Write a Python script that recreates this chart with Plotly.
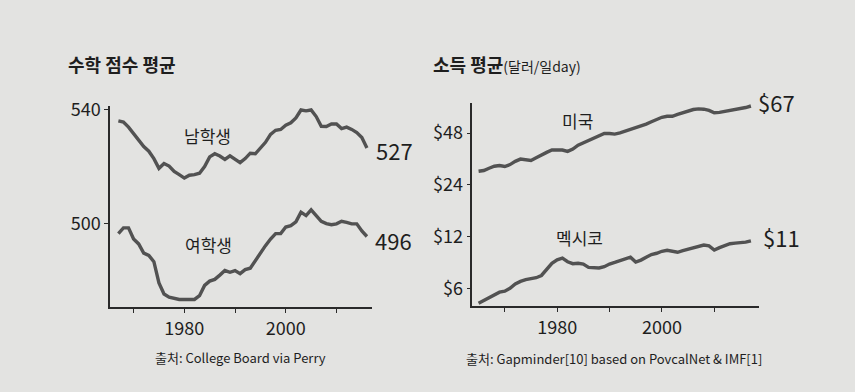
import plotly.graph_objects as go

# ---- data ----
score_years = list(range(1967, 2017))
male_scores = [536.0, 535.6, 533.8, 531.5, 529.0, 527.0, 525.4, 522.8, 519.4, 521.1,
               520.2, 518.3, 517.2, 516.0, 517.0, 517.2, 517.7, 520.0, 523.4, 524.5,
               523.7, 522.5, 523.8, 522.5, 521.4, 522.8, 524.7, 524.5, 526.4, 528.5,
               531.3, 532.7, 533.0, 534.5, 535.3, 537.0, 539.8, 539.5, 539.8, 537.5,
               534.1, 534.0, 534.9, 534.9, 533.3, 533.8, 533.0, 531.9, 530.2, 526.5]
female_scores = [496.6, 498.6, 498.6, 494.7, 493.0, 489.8, 489.0, 486.8, 479.4, 475.5,
                 474.4, 473.9, 473.6, 473.6, 473.6, 473.6, 474.9, 478.5, 480.0, 480.6,
                 482.1, 483.7, 483.1, 483.7, 482.6, 484.0, 484.5, 487.1, 490.2, 492.4,
                 494.7, 496.6, 496.6, 498.9, 499.4, 500.7, 504.1, 502.9, 504.9, 502.9,
                 500.9, 500.1, 499.7, 500.0, 500.9, 500.5, 500.0, 500.0, 497.5, 495.6]

income_years = list(range(1965, 2018))
usa_income = [28.8, 29.1, 30.0, 30.8, 31.1, 30.7, 31.5, 32.9, 33.9, 33.5,
              33.3, 34.5, 35.9, 37.1, 38.3, 38.5, 38.3, 37.6, 38.8, 40.9,
              42.3, 43.6, 45.2, 46.6, 47.8, 47.8, 47.4, 48.2, 49.3, 50.3,
              51.5, 52.6, 54.2, 55.9, 57.6, 59.4, 60.2, 60.2, 61.7, 63.1,
              64.5, 65.9, 66.5, 66.2, 65.1, 63.1, 63.4, 64.2, 65.1, 65.6,
              66.8, 67.7, 69.1]
mexico_income = [4.90, 5.08, 5.28, 5.47, 5.69, 5.77, 6.00, 6.35, 6.58, 6.73,
                 6.85, 6.91, 7.12, 7.71, 8.38, 8.79, 8.98, 8.56, 8.34, 8.38,
                 8.30, 7.94, 7.87, 7.87, 8.01, 8.30, 8.48, 8.67, 8.87, 9.10,
                 8.52, 8.75, 9.10, 9.43, 9.59, 9.85, 9.98, 9.85, 9.72, 9.93,
                 10.11, 10.34, 10.57, 10.71, 10.60, 10.02, 10.34, 10.66, 10.90, 10.99,
                 11.04, 11.14, 11.34]

score_ticks = [500, 540]
year_ticks = [1970, 1980, 1990, 2000, 2010]
year_ticktext = ["", "1980", "", "2000", ""]
income_ticks = [6, 12, 24, 48]
income_ticktext = ["$6", "$12", "$24", "$48"]

W, H = 855, 392
BG = "#e3e3e1"
LINE = "#525252"
INK = "#1e1e1e"
FONT = "Noto Sans CJK KR"

fig = go.Figure()
fig.add_trace(go.Scatter(x=score_years, y=male_scores, mode="lines",
                         line=dict(color=LINE, width=3.4), xaxis="x", yaxis="y"))
fig.add_trace(go.Scatter(x=score_years, y=female_scores, mode="lines",
                         line=dict(color=LINE, width=3.4), xaxis="x", yaxis="y"))
fig.add_trace(go.Scatter(x=income_years, y=usa_income, mode="lines",
                         line=dict(color=LINE, width=3.4), xaxis="x2", yaxis="y2"))
fig.add_trace(go.Scatter(x=income_years, y=mexico_income, mode="lines",
                         line=dict(color=LINE, width=3.4), xaxis="x2", yaxis="y2"))

axis_common = dict(showgrid=False, zeroline=False, showline=True, linecolor="#2a2a2a",
                   linewidth=1.5, ticks="outside", ticklen=4, tickwidth=1.3,
                   tickcolor="#2a2a2a", tickfont=dict(family=FONT, size=18, color=INK))

def px2x(px):
    return px / W

def py2y(py):
    return 1 - py / H

fig.update_layout(
    width=W, height=H, margin=dict(l=0, r=0, t=0, b=0),
    paper_bgcolor=BG, plot_bgcolor=BG, showlegend=False,
    font=dict(family=FONT, color=INK),
    xaxis=dict(domain=[px2x(110), px2x(372)], range=[1965.35, 2017.0],
               tickvals=year_ticks, ticktext=year_ticktext, anchor="y", **axis_common),
    yaxis=dict(domain=[py2y(305), py2y(98)], range=[470.8, 541.1],
               tickvals=score_ticks, anchor="x", **axis_common),
    xaxis2=dict(domain=[px2x(472.3), px2x(759.3)], range=[1963.8, 2018.6],
                tickvals=year_ticks, ticktext=year_ticktext, anchor="y2", **axis_common),
    yaxis2=dict(domain=[py2y(304), py2y(95)], type="log", range=[0.672, 1.855],
                tickvals=income_ticks, ticktext=income_ticktext, anchor="x2", **axis_common),
)

def note(text, px, py, size, xanchor="left", color=INK):
    fig.add_annotation(text=text, x=px2x(px), y=py2y(py), xref="paper", yref="paper",
                       xanchor=xanchor, yanchor="middle", showarrow=False,
                       font=dict(family=FONT, size=size, color=color))

note("<b>수학 점수 평균</b>", 66, 55, 18)
note("<b>소득 평균</b><span style='font-size:14px'>(달러/일day)</span>", 431, 55, 18)
note("남학생", 207.5, 128.5, 17, "center")
note("여학생", 208, 240.5, 17, "center")
note("527", 374, 143.5, 22)
note("496", 372.5, 235.5, 22)
note("미국", 577.5, 113, 17, "center")
note("멕시코", 579, 233, 17, "center")
note("$67", 755.5, 94, 22)
note("$11", 760.5, 233, 22)
note("출처: College Board via Perry", 240, 356.5, 13, "center")
note("출처: Gapminder[10] based on PovcalNet &amp; IMF[1]", 614, 358, 13, "center")

fig.write_html("out.html", config={"displayModeBar": False},
               post_script="document.body.style.margin='0';document.body.style.overflow='hidden';")
